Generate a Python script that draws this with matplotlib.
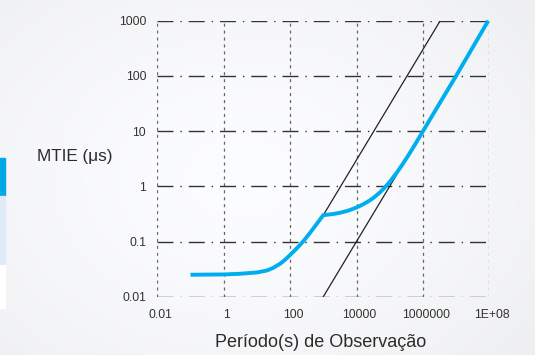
import numpy as np
import matplotlib
matplotlib.use("Agg")
from matplotlib import pyplot as plt
from matplotlib.patches import Rectangle
from matplotlib.transforms import ScaledTranslation

plt.rcParams['font.family'] = ['Liberation Sans', 'DejaVu Sans']
plt.rcParams['lines.scale_dashes'] = False

# MTIE curve (blue)
mtie_x = [0.1, 1, 3, 10, 20, 30, 50, 70, 100, 150, 200, 260, 350, 500, 700, 1000,
          2000, 3000, 5000, 7000, 1e4, 1.5e4, 2.5e4, 3.5e4, 5e4, 7e4, 1e5,
          1.66e5, 2.5e5, 4e5, 6e5, 1e6, 3e6, 1e7, 9.3e7]
mtie_y = [0.025, 0.0253, 0.026, 0.0275, 0.0298, 0.033, 0.0395, 0.0465, 0.057, 0.0725,
          0.087, 0.104, 0.130, 0.172, 0.226, 0.3,
          0.315, 0.329, 0.355, 0.38, 0.413, 0.463, 0.553, 0.641, 0.769, 0.94, 1.2,
          1.79, 2.56, 3.98, 5.92, 9.9, 30, 100, 1000]

# black reference lines
upper_x = [1000, 3.33e6]
upper_y = [0.3, 1000]
lower_x = [1000, 1.6e5]
lower_y = [0.01, 1.6]

xticks = [0.01, 1, 100, 1e4, 1e6, 1e8]
xtick_labels = ['0.01', '1', '100', '10000', '1000000', '1E+08']
yticks = [0.01, 0.1, 1, 10, 100, 1000]
ytick_labels = ['0.01', '0.1', '1', '10', '100', '1000']

W, H = 535, 355
fig = plt.figure(figsize=(W / 100, H / 100), dpi=100)

# soft vignette background
bg = fig.add_axes([0, 0, 1, 1])
gx, gy = np.meshgrid(np.linspace(0, 1, 200), np.linspace(0, 1, 140))
r = np.sqrt(((gx - 0.45) / 0.8) ** 2 + ((gy - 0.5) / 0.9) ** 2)
shade = 0.988 - 0.065 * np.clip(r, 0, 1) ** 1.5
bg.imshow(np.dstack([shade, shade + 0.003, shade + 0.008]).clip(0, 1),
          extent=[0, 1, 0, 1], aspect='auto', origin='lower')
bg.axis('off')

# left side strips
fig.patches.append(Rectangle((0, 1 - 196 / H), 5 / W, 38 / H, transform=fig.transFigure,
                             color='#00a9e6', zorder=5))
fig.patches.append(Rectangle((0, 1 - 265 / H), 5 / W, 69 / H, transform=fig.transFigure,
                             color='#deebf7', zorder=5))
fig.patches.append(Rectangle((0, 1 - 308 / H), 5 / W, 43 / H, transform=fig.transFigure,
                             color='#ffffff', zorder=5))

ax = fig.add_axes([157.3 / W, 1 - 296.7 / H, 332 / W, 276 / H])
ax.set_facecolor('none')
ax.set_xscale('log')
ax.set_yscale('log')
ax.set_xlim(0.01, 1e8)
ax.set_ylim(0.01, 1000)

ax.plot(lower_x, lower_y, color='#222222', lw=0.9, zorder=3)
ax.plot(upper_x, upper_y, color='#222222', lw=0.9, zorder=3)
ax.plot(mtie_x, mtie_y, color='#00aeef', lw=2.8, solid_capstyle='butt',
        solid_joinstyle='round', zorder=4, clip_on=False)

ax.set_xticks(xticks)
ax.set_xticklabels(xtick_labels)
ax.set_yticks(yticks)
ax.set_yticklabels(ytick_labels)
ax.minorticks_off()
ax.tick_params(length=0, labelsize=8.7, colors='#333333')
ax.tick_params(axis='x', pad=9)
ax.tick_params(axis='y', pad=8)
shift = ScaledTranslation(3 / 100, 0, fig.dpi_scale_trans)
for lab in ax.get_xticklabels():
    lab.set_transform(lab.get_transform() + shift)

ax.set_axisbelow(True)
ax.yaxis.grid(True, color='#333333', lw=1.0, linestyle=(0, (11.5, 5, 1, 5)))
ax.xaxis.grid(True, color='#666666', lw=0.9, linestyle=(0, (2.2, 2.8)))
for s in ax.spines.values():
    s.set_visible(False)

fig.text(75 / W, 1 - 156 / H, 'MTIE (μs)', ha='center', va='center',
         fontsize=12.3, color='#2b2b2b')
fig.text(321 / W, 1 - 342.5 / H, 'Período(s) de Observação', ha='center', va='center',
         fontsize=13, color='#2b2b2b')

plt.savefig('out.png', dpi=100)
